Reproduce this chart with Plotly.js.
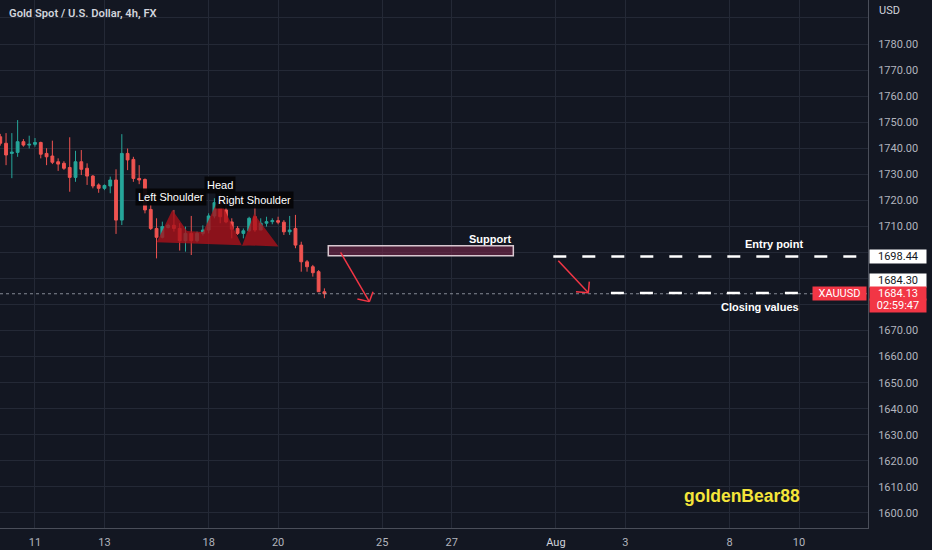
<!DOCTYPE html>
<html><head><meta charset="utf-8">
<script src="https://cdn.plot.ly/plotly-3.0.1.min.js"></script>
<style>html,body{margin:0;padding:0;background:#131722;}#chart{width:932px;height:550px;}</style>
</head><body><div id="chart"></div>
<script>
// trading-day calendar (weekends skipped), six 4h candles per day
const tradingDays = ['2022-07-08','2022-07-11','2022-07-12','2022-07-13','2022-07-14','2022-07-15',
  '2022-07-18','2022-07-19','2022-07-20','2022-07-21','2022-07-22','2022-07-25','2022-07-26','2022-07-27',
  '2022-07-28','2022-07-29','2022-08-01','2022-08-02','2022-08-03','2022-08-04','2022-08-05',
  '2022-08-08','2022-08-09','2022-08-10','2022-08-11','2022-08-12'];

const openP  = [1744.4,1741.9,1738.0,1738.4,1742.5,1741.2,1741.5,1742.2,1738.0,1737.0,1734.8,1734.2,1732.6,1728.8,1734.8,1732.3,1729.3,1725.9,1724.6,1725.5,1727.8,1712.4,1738.0,1735.7,1728.4,1728.0,1716.5,1709.2,1705.8,1709.6,1710.4,1709.2,1704.5,1707.3,1704.5,1707.3,1708.6,1714.0,1719.5,1716.3,1711.7,1709.2,1707.3,1708.3,1713.7,1708.6,1711.2,1711.8,1712.2,1711.6,1707.9,1709.2,1702.8,1696.4,1694.5,1692.6,1684.9];
const highP  = [1745.5,1745.8,1745.8,1750.8,1743.5,1744.8,1743.9,1742.5,1740.0,1742.9,1736.1,1735.0,1744.2,1739.0,1739.3,1734.2,1729.7,1726.5,1726.1,1729.1,1731.9,1745.4,1739.9,1736.7,1733.5,1728.4,1718.2,1713.1,1711.8,1711.0,1716.3,1711.2,1709.9,1714.0,1708.0,1710.4,1715.0,1720.8,1723.7,1719.5,1713.1,1710.1,1709.2,1713.7,1718.2,1713.1,1713.7,1713.1,1713.7,1712.4,1714.0,1714.4,1704.1,1697.1,1695.2,1693.2,1686.2];
const lowP   = [1741.0,1733.5,1728.5,1736.7,1740.6,1739.9,1740.6,1736.1,1733.5,1733.9,1731.3,1731.7,1723.3,1727.1,1729.7,1725.9,1724.6,1722.9,1723.9,1722.7,1707.1,1710.5,1731.6,1727.1,1726.2,1715.0,1708.6,1697.7,1705.4,1709.2,1708.0,1700.7,1700.3,1699.0,1703.9,1706.5,1707.3,1713.1,1711.2,1711.2,1705.4,1706.7,1705.4,1707.9,1707.9,1708.6,1709.9,1710.8,1710.8,1706.7,1706.7,1701.6,1692.6,1692.6,1690.7,1684.9,1682.4];
const closeP = [1741.9,1737.4,1738.5,1742.5,1741.2,1741.5,1742.2,1737.7,1736.7,1734.6,1733.9,1732.3,1728.8,1734.8,1731.9,1729.3,1725.5,1724.6,1725.7,1727.8,1712.4,1738.0,1735.5,1728.4,1727.8,1716.3,1709.2,1705.8,1709.9,1710.4,1709.2,1704.5,1707.3,1704.5,1707.3,1708.6,1714.0,1719.1,1713.7,1711.7,1708.9,1707.3,1708.3,1713.1,1708.6,1711.2,1711.8,1712.2,1711.6,1707.9,1708.6,1702.8,1696.4,1694.5,1692.2,1684.9,1684.13];

const tickDates = ['2022-07-11','2022-07-13','2022-07-18','2022-07-20','2022-07-25','2022-07-27','2022-08-01','2022-08-03','2022-08-08','2022-08-10'];
const tickLabels = ['11','13','18','20','25','27','<span style="color:#d1d4dc">Aug</span>','3','8','10'];

// price scale ticks (labels hidden where the price tags sit on top of them)
const yTickVals = [1600,1610,1620,1630,1640,1650,1660,1670,1680,1690,1700,1710,1720,1730,1740,1750,1760,1770,1780,1790];
const yTickText = ['1600.00','1610.00','1620.00','1630.00','1640.00','1650.00','1660.00','1670.00','','','','1710.00','1720.00','1730.00','1740.00','1750.00','1760.00','1770.00','1780.00',''];

// drawing anchors: [candle slot (fractional), price]
const hsIdx   = [27.03, 29.73, 32.26, 35.03, 37.79, 41.77, 43.84, 48.07, 27.03];
const hsPrice = [1703.9,1716.3,1708.2,1707.8,1720.9,1702.5,1714.8,1702.3,1703.9];
const supportIdx = [56.67, 88.64];
const supportPrice = [1698.7, 1702.6];
const entryPrice = 1698.44;
const entryIdx = [95.55, 149.9];
const closingPrice = 1684.4;
const closingIdx = [105.5, 140.2];
const lastPrice = 1684.13;
const arrow1 = {start:[58.8,1700.0], tip:[63.76,1681.1], w1:[64.4,1684.9], w2:[61.7,1682.1]};
const arrow2 = {start:[96.41,1696.8], tip:[101.6,1684.5], w1:[101.77,1688.76], w2:[99.47,1684.9]};

function t(i){
  const k = Math.floor(i/6);
  const h = (i - 6*k)*4;
  const ms = Date.parse(tradingDays[k]+'T00:00:00Z') + Math.round(h*3600000);
  return new Date(ms).toISOString().slice(0,19).replace('T',' ');
}
const candleTimes = openP.map((_,i)=>t(i));

const UP='#26a69a', DOWN='#ef5350', RED='#f23645';
const BG='#131722', GRID='#242936', TXT='#b2b5be';

const traces = [
  {type:'scatter', mode:'lines', x:hsIdx.map(t), y:hsPrice, fill:'toself',
   fillcolor:'rgba(170,18,26,0.8)', line:{width:0}, hoverinfo:'skip', showlegend:false},
  {type:'candlestick', x:candleTimes, open:openP, high:highP, low:lowP, close:closeP,
   increasing:{line:{color:UP,width:1}, fillcolor:UP},
   decreasing:{line:{color:DOWN,width:1}, fillcolor:DOWN},
   whiskerwidth:0, hoverinfo:'skip', showlegend:false}
];

function seg(a,b,color,w,dash){
  return {type:'line', xref:'x', yref:'y', x0:t(a[0]), y0:a[1], x1:t(b[0]), y1:b[1],
          line:{color:color, width:w, dash:dash||'solid'}, layer:'above'};
}

const shapes = [
  {type:'line', xref:'paper', yref:'y', x0:0, x1:1, y0:lastPrice, y1:lastPrice,
   line:{color:'rgba(170,175,185,0.75)', width:1, dash:'dot'}, layer:'above'},
  {type:'rect', xref:'x', yref:'y', x0:t(supportIdx[0]), x1:t(supportIdx[1]), y0:supportPrice[0], y1:supportPrice[1],
   fillcolor:'rgba(120,40,75,0.6)', line:{color:'#d8c8d0', width:1.5}, layer:'above'},
  seg([entryIdx[0],entryPrice],[entryIdx[1],entryPrice],'#ffffff',2.5,'13px,16px'),
  seg([closingIdx[0],closingPrice],[closingIdx[1],closingPrice],'#ffffff',2.5,'13px,16px'),
  seg(arrow1.start, arrow1.tip, RED, 1.5), seg(arrow1.w1, arrow1.tip, RED, 1.5), seg(arrow1.w2, arrow1.tip, RED, 1.5),
  seg(arrow2.start, arrow2.tip, RED, 1.5), seg(arrow2.w1, arrow2.tip, RED, 1.5), seg(arrow2.w2, arrow2.tip, RED, 1.5)
];

function label(idx, price, text, opts){
  return Object.assign({xref:'x', yref:'y', x:t(idx), y:price, text:text, showarrow:false,
    xanchor:'center', yanchor:'middle',
    font:{family:'Liberation Sans, Arial, sans-serif', size:11, color:'#ffffff'}}, opts||{});
}
function axisBox(price, text, bg, fg){
  return {xref:'paper', yref:'y', x:1, y:price, xanchor:'left', yanchor:'middle', text:text, showarrow:false,
    bgcolor:bg, borderpad:1, width:54, height:11, xshift:1,
    font:{family:'Roboto, sans-serif', size:11, color:fg}};
}

const annotations = [
  {xref:'paper', yref:'paper', x:0.008, y:0.975, xanchor:'left', yanchor:'middle', showarrow:false,
   text:'Gold Spot / U.S. Dollar, 4h, FX', font:{family:'Roboto, sans-serif', size:11.2, weight:600, color:'#d1d4dc'}},
  {xref:'paper', yref:'paper', x:1, y:0.981, xanchor:'left', yanchor:'middle', showarrow:false, xshift:9,
   text:'USD', font:{family:'Roboto, sans-serif', size:11, color:'#d1d4dc'}},
  label(29.58, 1721.3, 'Left Shoulder', {bgcolor:'rgba(5,5,8,0.92)', borderpad:2}),
  label(37.88, 1725.9, 'Head', {bgcolor:'rgba(5,5,8,0.92)', borderpad:2}),
  label(44.0, 1720.2, 'Right Shoulder', {bgcolor:'rgba(5,5,8,0.92)', borderpad:2}),
  label(84.6, 1705.1, '<b>Support</b>'),
  label(133.7, 1703.1, '<b>Entry point</b>'),
  label(131.3, 1679.2, '<b>Closing values</b>'),
  label(128.15, 1606.5, '<b>goldenBear88</b>', {font:{family:'Liberation Sans, Arial, sans-serif', size:17.5, color:'#f5e53a'}}),
  axisBox(1698.44, '1698.44', '#ffffff', '#131722'),
  axisBox(1689.4, '1684.30', '#ffffff', '#131722'),
  axisBox(1684.2, '1684.13', RED, '#ffffff'),
  axisBox(1679.8, '02:59:47', RED, '#ffffff'),
  {xref:'paper', yref:'y', x:1, y:lastPrice, xanchor:'right', yanchor:'middle', xshift:-1, showarrow:false,
   text:'XAUUSD', bgcolor:RED, borderpad:1, width:51, height:11, font:{family:'Roboto, sans-serif', size:11, color:'#ffffff'}}
];

const layout = {
  width:932, height:550,
  margin:{l:0, r:64, t:0, b:22, pad:0},
  paper_bgcolor:BG, plot_bgcolor:BG,
  showlegend:false, dragmode:false, hovermode:false,
  xaxis:{type:'date', range:['2022-07-07 23:49:00','2022-08-11 23:40:00'],
    rangebreaks:[{bounds:['sat','mon']}],
    rangeslider:{visible:false},
    tickvals:tickDates, ticktext:tickLabels, tickmode:'array',
    showgrid:true, gridcolor:GRID, gridwidth:1,
    showline:true, linecolor:'#4a4e59', linewidth:1,
    ticks:'', ticklabelstandoff:4, automargin:false,
    tickfont:{family:'Roboto, sans-serif', size:11, color:TXT}, zeroline:false, fixedrange:true},
  yaxis:{side:'right', range:[1594.2,1796.9], tickmode:'array', tickvals:yTickVals, ticktext:yTickText,
    showgrid:true, gridcolor:GRID, gridwidth:1,
    showline:true, linecolor:'#4a4e59', linewidth:1,
    ticks:'', ticklabelstandoff:7, automargin:false,
    tickfont:{family:'Roboto, sans-serif', size:11, color:TXT}, zeroline:false, fixedrange:true},
  shapes:shapes, annotations:annotations
};

Plotly.newPlot('chart', traces, layout, {staticPlot:true, displayModeBar:false});
</script>
</body></html>
